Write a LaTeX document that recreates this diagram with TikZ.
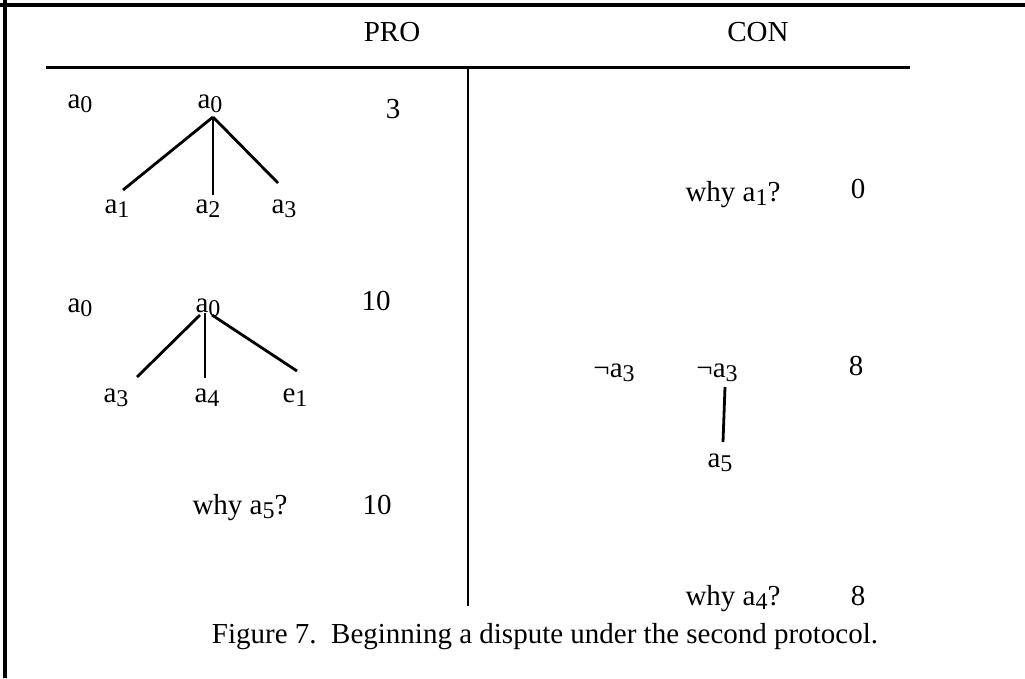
\documentclass[tikz,border=0pt]{standalone}
\usepackage{fontspec}
\setmainfont{Liberation Serif}
\newcommand{\ssub}[1]{\raisebox{-4pt}{\fontsize{24}{24}\selectfont #1}}
\begin{document}
\begin{tikzpicture}[x=1pt,y=-1pt,
  lbl/.style={inner sep=0pt,anchor=base,font=\fontsize{29}{33}\selectfont},
  edge/.style={line width=2.8pt},
  frame/.style={line width=3.5pt}]
\useasboundingbox (0,0) rectangle (1025,678);
% frame (top and left)
\coordinate (fl) at (0,5); \coordinate (fr) at (1025,5);
\coordinate (ft) at (5,0); \coordinate (fb) at (5,678);
\draw[frame] (fr) -- (fl);
\draw[frame] (ft) -- (fb);
% header
\node[lbl] (pro) at (392,41) {PRO};
\node[lbl] (con) at (758,41) {CON};
\coordinate (rl) at (46,67); \coordinate (rr) at (910,67);
\draw[line width=3pt] (rl) -- (rr);
\coordinate (dt) at (468,67); \coordinate (db) at (468,606);
\draw[line width=2pt] (dt) -- (db);
% PRO tree 1
\node[lbl] (p1) at (80,108) {a\ssub{0}};
\node[lbl] (r1) at (210,108) {a\ssub{0}};
\node[lbl] (n1) at (393,118) {3};
\node[lbl] (c11) at (117,213) {a\ssub{1}};
\node[lbl] (c12) at (208,213) {a\ssub{2}};
\node[lbl] (c13) at (284,213) {a\ssub{3}};
\coordinate (j1) at (213,117);
\coordinate (e11) at (123,190); \coordinate (e12) at (213,195); \coordinate (e13) at (278,183);
\draw[edge] (j1) -- (e11); \draw[edge] (j1) -- (e12); \draw[edge] (j1) -- (e13);
% PRO tree 2
\node[lbl] (p2) at (80,312) {a\ssub{0}};
\node[lbl] (r2) at (208,312) {a\ssub{0}};
\node[lbl] (n2) at (376,310) {10};
\node[lbl] (c21) at (116,402) {a\ssub{3}};
\node[lbl] (c22) at (207,402) {a\ssub{4}};
\node[lbl] (c23) at (295,402) {e\ssub{1}};
\coordinate (j2a) at (200,315); \coordinate (j2b) at (205,313); \coordinate (j2c) at (212,315);
\coordinate (e21) at (137,377); \coordinate (e22) at (205,378); \coordinate (e23) at (297,371);
\draw[edge] (j2a) -- (e21); \draw[edge] (j2b) -- (e22); \draw[edge] (j2c) -- (e23);
% PRO why
\node[lbl] (w1) at (240,514) {why a\ssub{5}?};
\node[lbl] (n3) at (377,514) {10};
% CON
\node[lbl] (w2) at (733,201) {why a\ssub{1}?};
\node[lbl] (n4) at (858,198) {0};
\node[lbl] (q1) at (614,377) {¬a\ssub{3}};
\node[lbl] (q2) at (717,377) {¬a\ssub{3}};
\node[lbl] (n5) at (856,375) {8};
\node[lbl] (q3) at (720,467) {a\ssub{5}};
\coordinate (j3) at (725,387); \coordinate (e31) at (723,442);
\draw[edge] (j3) -- (e31);
\node[lbl] (w3) at (733,605) {why a\ssub{4}?};
\node[lbl] (n6) at (858,605) {8};
% caption
\node[lbl] (cap) at (545,643) {Figure 7.\ \ Beginning a dispute under the second protocol.};
\end{tikzpicture}
\end{document}
